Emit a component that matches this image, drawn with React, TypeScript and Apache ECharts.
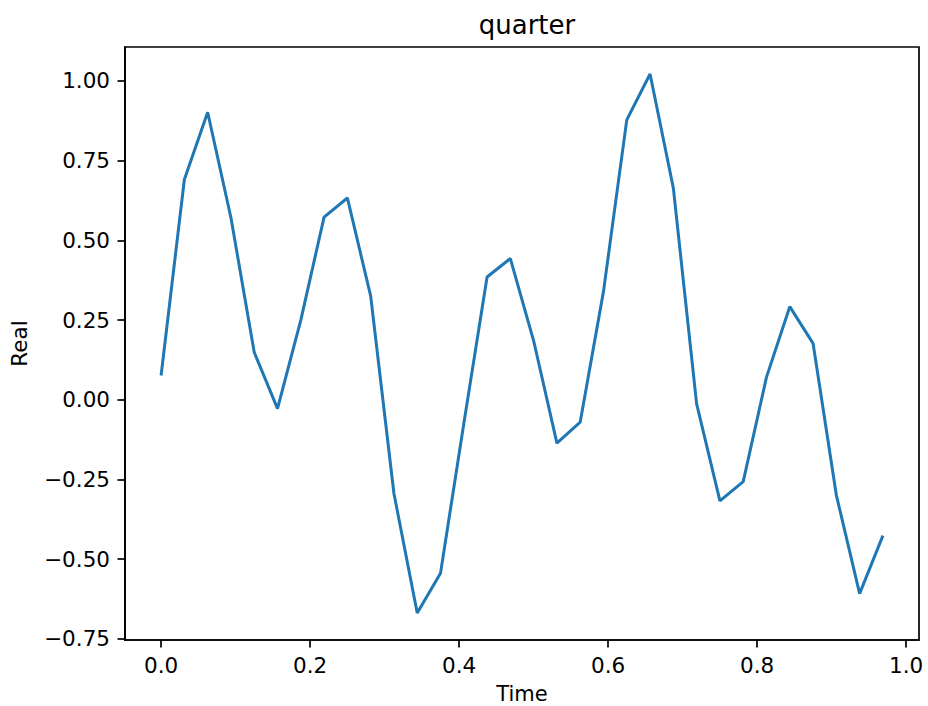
import React, { useEffect, useRef } from "react";
import * as echarts from "echarts";

const N = 32;
const times: number[] = Array.from({ length: N }, (_, i) => i / N);
const realValues: number[] = [
  0.076, 0.691, 0.902, 0.571, 0.149, -0.028, 0.25, 0.573, 0.633, 0.326,
  -0.294, -0.669, -0.544, -0.075, 0.385, 0.443, 0.185, -0.136, -0.07, 0.34,
  0.878, 1.022, 0.664, -0.013, -0.317, -0.257, 0.071, 0.292, 0.177, -0.299,
  -0.608, -0.426,
];
const xTicks: number[] = [0, 0.2, 0.4, 0.6, 0.8, 1.0];
const yTicks: number[] = [-0.75, -0.5, -0.25, 0, 0.25, 0.5, 0.75, 1.0];

const FONT = "DejaVu Sans";
const fmt = (v: number, d: number) => v.toFixed(d).replace("-", "\u2212");

export default function App() {
  const ref = useRef<HTMLDivElement>(null);
  useEffect(() => {
    if (!ref.current) return;
    const chart = echarts.init(ref.current, undefined, { renderer: "svg" });
    const xMin = times[0];
    const xMax = times[times.length - 1];
    const xPad = (xMax - xMin) * 0.05;
    const yMinD = Math.min(...realValues);
    const yMaxD = Math.max(...realValues);
    const yPad = (yMaxD - yMinD) * 0.05;
    const axisLine = { show: true, onZero: false, lineStyle: { color: "#000", width: 1.7 } };
    const tickBase = { show: true, inside: false, length: 7.5, lineStyle: { color: "#000", width: 1.7 } };
    chart.setOption({
      animation: false,
      backgroundColor: "#fff",
      title: {
        text: "quarter",
        left: 522,
        textAlign: "center",
        top: 7,
        textStyle: { fontFamily: FONT, fontSize: 26, fontWeight: "normal", color: "#000" },
      },
      grid: {
        left: 125,
        top: 47,
        width: 794,
        height: 593,
        containLabel: false,
        outerBoundsMode: "none",
        show: true,
        borderColor: "#000",
        borderWidth: 1.7,
        backgroundColor: "transparent",
      },
      xAxis: {
        type: "value",
        min: xMin - xPad,
        max: xMax + xPad,
        name: "Time",
        nameLocation: "middle",
        nameGap: 43,
        nameTextStyle: { fontFamily: FONT, fontSize: 21, lineHeight: 21, color: "#000" },
        axisLine,
        splitLine: { show: false },
        axisTick: { ...tickBase, customValues: xTicks },
        axisLabel: {
          customValues: xTicks,
          margin: 14,
          fontFamily: FONT,
          fontSize: 21.5,
          color: "#000",
          formatter: (v: number) => fmt(v, 1),
        },
      },
      yAxis: {
        type: "value",
        min: yMinD - yPad,
        max: yMaxD + yPad,
        name: "Real",
        nameLocation: "middle",
        nameGap: 95,
        nameTextStyle: { fontFamily: FONT, fontSize: 21.5, color: "#000" },
        axisLine,
        splitLine: { show: false },
        axisTick: { ...tickBase, customValues: yTicks },
        axisLabel: {
          customValues: yTicks,
          margin: 15,
          fontFamily: FONT,
          fontSize: 21.5,
          color: "#000",
          formatter: (v: number) => fmt(v, 2),
        },
      },
      series: [
        {
          type: "line",
          data: times.map((t, i) => [t, realValues[i]]),
          showSymbol: false,
          lineStyle: { color: "#1f77b4", width: 3 },
          itemStyle: { color: "#1f77b4" },
        },
      ],
    });
    return () => chart.dispose();
  }, []);
  return (
    <div
      ref={ref}
      style={{ position: "fixed", left: 0, top: 0, width: 928, height: 706, background: "#fff" }}
    />
  );
}
